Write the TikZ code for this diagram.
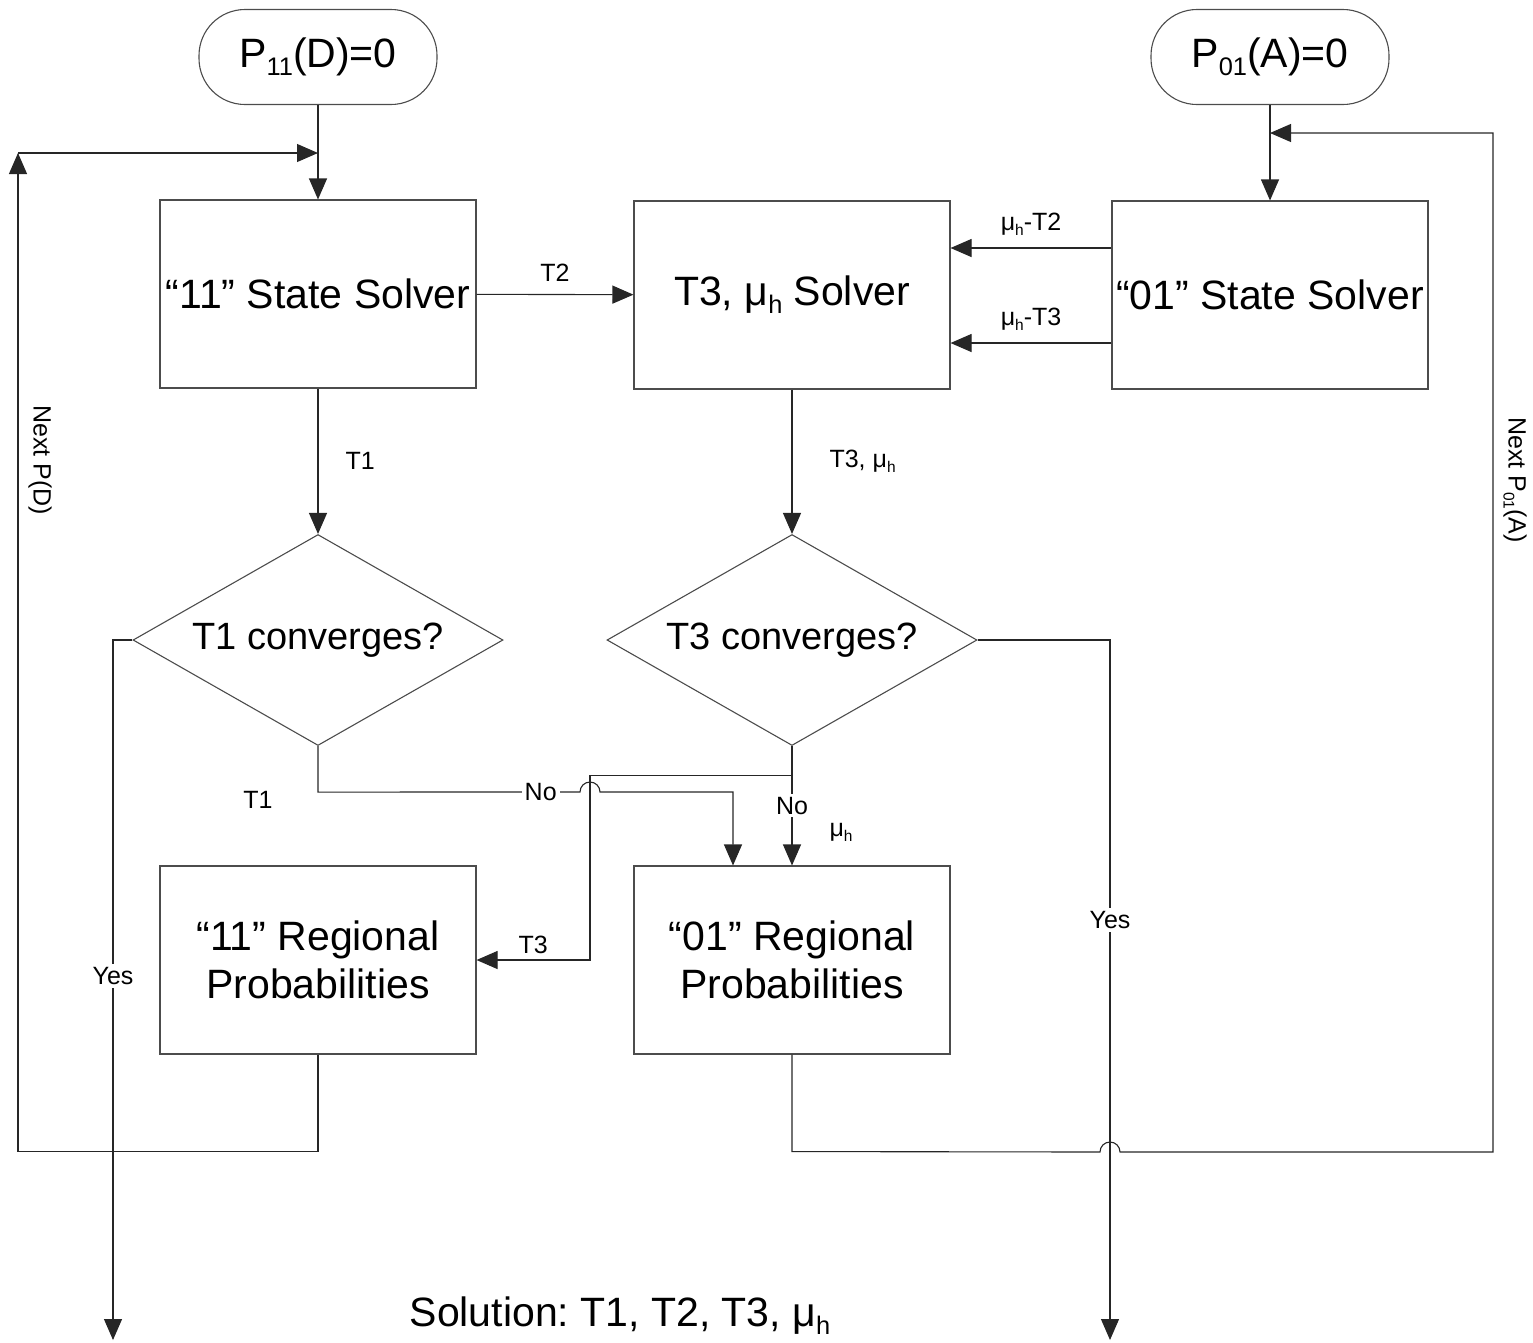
\documentclass[tikz,border=0pt]{standalone}
\usepackage{fontspec}
\usepackage{graphicx}
\setmainfont{Liberation Sans}
\usetikzlibrary{arrows.meta,shapes.geometric}
\definecolor{LineClr}{rgb}{0.15,0.15,0.15}
\definecolor{BoxClr}{rgb}{0.3,0.3,0.3}
\newcommand{\smallsub}[1]{\raisebox{-0.2em}{\scalebox{0.62}{#1}}}
\frenchspacing

\begin{document}
\begin{tikzpicture}[x=1pt,y=-1pt,line width=1.1pt,
  arr/.style={draw=LineClr,-{Triangle[length=21pt,width=18pt]}},
  box/.style={draw=BoxClr,minimum width=316pt,minimum height=188pt,inner sep=2pt,align=center,font=\fontsize{41}{48}\selectfont},
  term/.style={draw=BoxClr,rounded corners=46pt,minimum width=238pt,minimum height=95pt,font=\fontsize{41}{48}\selectfont},
  cond/.style={diamond,draw=BoxClr,aspect=1.75,minimum width=370pt,minimum height=211pt,inner sep=0pt,font=\fontsize{38}{46}\selectfont},
  lbl/.style={font=\fontsize{25}{30}\selectfont,inner sep=3pt}]
\useasboundingbox (0,0) rectangle (1533,1342);

% Start values of the two state solvers.
\node[term] (startD) at (318,57) {P\smallsub{11}(D)=0};
\node[term] (startA) at (1270,57) {P\smallsub{01}(A)=0};

% Solvers.
\node[box] (solver11) at (318,294) {“11” State Solver};
\node[box] (solverT3) at (792,295) {T3, μ\smallsub{h} Solver};
\node[box] (solver01) at (1270,295) {“01” State Solver};

% Convergence tests.
\node[cond] (conv1) at (318,640) {T1 converges?};
\node[cond] (conv3) at (792,640) {T3 converges?};

% Regional probabilities.
\node[box] (region11) at (318,960) {“11” Regional\\Probabilities};
\node[box] (region01) at (792,960) {“01” Regional\\Probabilities};

\node[font=\fontsize{41}{48}\selectfont] (sol) at (620,1316) {Solution: T1, T2, T3, μ\smallsub{h}};

% Free ends of the loops and outputs.
\coordinate (loopL) at (18,153);
\coordinate (joinD) at (318,153);
\coordinate (loopR) at (1493,133);
\coordinate (joinA) at (1270,133);
\coordinate (outL) at (113,1340);
\coordinate (outR) at (1110,1340);

\draw[arr] (startD) -- (solver11);
\draw[arr] (startA) -- (solver01);

\draw[arr] (solver11) -- node[lbl,above=9pt]{T2} (solverT3);
\draw[arr] ([yshift=47pt]solver01.west) -- node[lbl,above=9pt]{μ\smallsub{h}-T2} ([yshift=47pt]solverT3.east);
\draw[arr] ([yshift=-48pt]solver01.west) -- node[lbl,above=9pt]{μ\smallsub{h}-T3} ([yshift=-48pt]solverT3.east);

\draw[arr] (solver11) -- node[lbl,right=24pt]{T1} (conv1);
\draw[arr] (solverT3) -- node[lbl,right=34pt]{T3, μ\smallsub{h}} (conv3);

% Converged: leave the loop.
\draw[arr] (conv1.west) -| node[lbl,fill=white,pos=0.74]{Yes} (outL);
\draw[arr] (conv3.east) -| node[lbl,fill=white,pos=0.70]{Yes} (outR);

% Not converged.
\draw[arr] (conv1.south) -- ++(0,46) node[lbl,xshift=-60pt,yshift=-8pt]{T1}
  -- node[lbl,fill=white,pos=0.85]{No} (580,792) arc[start angle=180,end angle=0,radius=10pt]
  -| ([xshift=-59pt]region01.north);
\draw[arr] (conv3.south) |- ++(-202,29) |- node[lbl,above=3pt,pos=0.75]{T3} (region11.east);
\draw[arr] (conv3) -- node[lbl,fill=white]{No} node[lbl,right=34pt,pos=0.72]{μ\smallsub{h}} (region01);

% Loops back to the solvers.
\draw[arr] (region11.south) -- ++(0,97) -| (loopL);
\draw[arr] (loopL) -- (joinD);
\node[lbl,rotate=-90] (nextD) at (40,460) {Next P(D)};

\draw[arr] (region01.south) -- ++(0,97) -- (1100,1152) arc[start angle=180,end angle=0,radius=10pt]
  -| (loopR) -- (joinA);
\node[lbl,rotate=-90] (nextA) at (1515,480) {Next P\smallsub{01}(A)};

\end{tikzpicture}
\end{document}
